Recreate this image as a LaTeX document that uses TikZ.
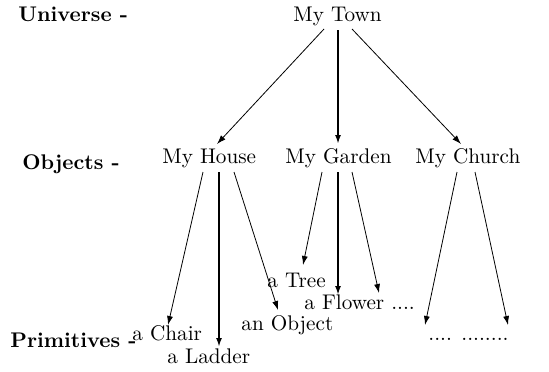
\documentclass[tikz,border=0pt]{standalone}
\usetikzlibrary{arrows.meta,calc}
\begin{document}
\begin{tikzpicture}[x=0.5pt,y=-0.5pt,
  lbl/.style={anchor=base west,inner sep=0pt,font=\fontsize{10.6}{12}\selectfont},
  lvl/.style={anchor=base west,inner sep=0pt,font=\fontsize{10.6}{12}\selectfont\bfseries},
  thin/.style={line width=0.4pt,-{Latex[length=4.5pt,width=3pt]}},
  thick/.style={line width=1.3pt,-{Latex[length=4.5pt,width=3pt]}}]
\useasboundingbox (0,0) rectangle (549,371);
% level labels
\node[lvl] (univ) at (18,21) {Universe -};
\node[lvl] (objs) at (22,169) {Objects -};
\node[lvl] (prim) at (10,347) {Primitives -};
% nodes
\node[lbl] (town) at (293,21) {My Town};
\node[lbl] (house) at (162,163) {My House};
\node[lbl] (garden) at (285,163) {My Garden};
\node[lbl] (church) at (415,163) {My Church};
\node[lbl] (chair) at (132,340) {a Chair};
\node[lbl] (ladder) at (167,363) {a Ladder};
\node[lbl] (object) at (241,330) {an Object};
\node[lbl] (tree) at (267,287) {a Tree};
\node[lbl] (flower) at (304,309) {a Flower ....};
\node[lbl] (dots) at (428,340) {.... ........};
% connectors
\draw[thin] ($(town.base west)+(31,8)$) -- ($(house.base west)+(55,-19)$);
\draw[thick] ($(town.base west)+(45,9)$) -- ($(garden.base west)+(53,-19)$);
\draw[thin] ($(town.base west)+(59,8)$) -- ($(church.base west)+(46,-19)$);
\draw[thin] ($(house.base west)+(41,9)$) -- ($(chair.base west)+(36,-15)$);
\draw[thick] ($(house.base west)+(57,9)$) -- ($(ladder.base west)+(52,-16)$);
\draw[thin] ($(house.base west)+(72,9)$) -- ($(object.base west)+(37,-20)$);
\draw[thin] ($(garden.base west)+(37,9)$) -- ($(tree.base west)+(36,-22)$);
\draw[thick] ($(garden.base west)+(53,9)$) -- ($(flower.base west)+(34,-14)$);
\draw[thin] ($(garden.base west)+(67,9)$) -- ($(flower.base west)+(75,-16)$);
\draw[thin] ($(church.base west)+(42,9)$) -- ($(dots.base west)+(-3,-15)$);
\draw[thin] ($(church.base west)+(60,9)$) -- ($(dots.base west)+(80,-15)$);
\end{tikzpicture}
\end{document}
